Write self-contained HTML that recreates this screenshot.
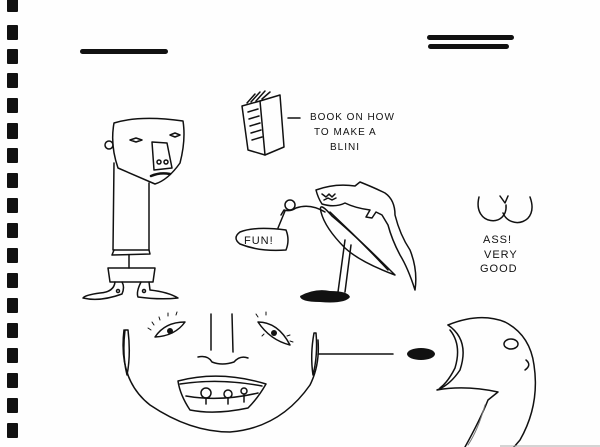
<!DOCTYPE html>
<html><head><meta charset="utf-8"><style>
html,body{margin:0;padding:0;background:#fff;width:600px;height:447px;overflow:hidden}
svg{display:block}
text{font-family:"Liberation Sans",sans-serif;fill:#111;letter-spacing:1px}
</style></head><body>
<svg width="600" height="447" viewBox="0 0 600 447" xmlns="http://www.w3.org/2000/svg">
<rect width="600" height="447" fill="#fefefe"/>
<g fill="#111">
<rect x="7" y="-2" width="11" height="14" rx="1"/>
<rect x="7" y="25" width="11" height="15" rx="1"/>
<rect x="7" y="49" width="11" height="15" rx="1"/>
<rect x="7" y="73" width="11" height="15" rx="1"/>
<rect x="7" y="98" width="11" height="15" rx="1"/>
<rect x="7" y="123" width="11" height="16" rx="1"/>
<rect x="7" y="148" width="11" height="15" rx="1"/>
<rect x="7" y="173" width="11" height="15" rx="1"/>
<rect x="7" y="198" width="11" height="15" rx="1"/>
<rect x="7" y="223" width="11" height="15" rx="1"/>
<rect x="7" y="248" width="11" height="15" rx="1"/>
<rect x="7" y="273" width="11" height="15" rx="1"/>
<rect x="7" y="298" width="11" height="15" rx="1"/>
<rect x="7" y="323" width="11" height="15" rx="1"/>
<rect x="7" y="348" width="11" height="15" rx="1"/>
<rect x="7" y="373" width="11" height="15" rx="1"/>
<rect x="7" y="398" width="11" height="15" rx="1"/>
<rect x="7" y="423" width="11" height="15" rx="1"/>
<rect x="80" y="49" width="88" height="5" rx="2.5"/>
<rect x="427" y="35" width="87" height="5" rx="2.5"/>
<rect x="428" y="44" width="81" height="5" rx="2.5"/>
<ellipse cx="421" cy="354" rx="14" ry="6"/>
<path d="M300 296 Q315 288 330 291 Q348 291 350 297 Q345 304 320 302 Q300 302 300 296Z"/>
<ellipse cx="170" cy="331" rx="3" ry="3"/>
<ellipse cx="274" cy="333" rx="3" ry="3"/>
</g>
<g fill="none" stroke="#111" stroke-width="1.5" stroke-linecap="round" stroke-linejoin="round">
<!-- head man -->
<path d="M114 123 Q140 115 183 121 Q186 140 180 163 Q168 180 155 184 L118 168 Q110 145 114 123Z"/>
<circle cx="109" cy="145" r="4"/>
<path d="M130 140 l6 -2 l6 2 l-6 2z M170 135 l5 -2 l5 2 l-5 2z"/>
<path d="M152 142 L167 143 L172 168 L154 170Z"/>
<circle cx="159" cy="162" r="2"/><circle cx="166" cy="162" r="2"/>
<path d="M151 176 Q160 172 170 174" stroke-width="2.5"/>
<path d="M114 163 L113 250 L149 250 L149 183"/>
<path d="M114 250 L112 255 L150 254 L149 250"/>
<path d="M129 255 L129 268"/>
<path d="M108 268 L155 268 L153 282 L110 282Z"/>
<path d="M115 282 Q114 292 100 293 Q85 295 83 298 Q100 302 122 294 Q125 287 122 282"/>
<path d="M141 282 Q136 292 138 297 Q160 300 178 298 Q168 292 150 290 L149 282"/>
<circle cx="118" cy="291" r="1.5"/><circle cx="144" cy="291" r="1.5"/>
<!-- book -->
<path d="M242 106 L260 101 L265 155 L248 150Z"/>
<path d="M260 101 L280 95 L284 147 L265 155"/>
<path d="M248 112 l10 -3 M249 119 l10 -3 M250 126 l10 -3 M251 133 l10 -3 M252 140 l10 -3"/>
<path d="M247 103 L255 94 M251 102 L260 92 M256 101 L265 91 M262 99 L270 92"/>
<path d="M288 118 L300 118"/>
<!-- bird -->
<path d="M284 210 L281 215 M284 210 Q290 212 296 208 Q310 203 325 212"/>
<circle cx="290" cy="205" r="5"/>
<path d="M285 211 L278 228"/>
<path d="M240 232 Q255 226 286 230 Q290 240 286 250 Q260 252 240 244 Q232 238 240 232Z"/>
<path d="M321 212 Q318 200 332 216 Q355 235 395 275 Q360 262 345 248 Q325 228 321 212Z"/>
<path d="M330 212 Q360 240 388 270"/>
<path d="M345 240 L338 292 M351 245 L345 292"/>
<!-- dog -->
<path d="M316 190 Q335 183 355 186 L360 182 Q375 188 385 193 Q395 200 395 215 Q400 235 410 250 Q418 270 415 290 Q408 268 400 255 Q392 240 388 225 L382 215 L376 212 L372 218 L366 217 L370 210 Q355 208 345 203 Q335 208 322 204 Q318 198 316 190Z"/>
<path d="M322 194 l4 3 l3 -3 l3 3 l3 -3 M324 200 l4 -2 l4 2 l4 -2"/>
<!-- ass -->
<path d="M479 197 C472 226 508 228 506 205"/>
<path d="M503 213 C510 230 540 224 530 197"/>
<path d="M500 196 L505 203 L508 196"/>
<!-- face -->
<path d="M124 330 Q118 380 150 405 Q190 432 230 432 Q280 428 310 385 Q320 365 318 340"/>
<path d="M125 330 Q122 355 127 375 Q131 355 128 330Z"/>
<path d="M314 333 Q310 355 313 375 Q318 355 316 333Z"/>
<path d="M318 354 L393 354"/>
<path d="M155 337 Q165 322 185 322 Q175 336 155 337Z"/>
<path d="M258 322 Q278 322 290 345 Q270 340 258 322Z"/>
<path d="M151 330 l-3 -2 M154 325 l-2 -3 M160 320 l-1 -3 M168 316 l0 -3 M176 315 l1 -3 M258 317 l-2 -3 M266 315 l0 -3 M287 336 l3 -1 M290 341 l3 1 M264 334 l-2 2" stroke-width="1"/>
<path d="M211 314 L211 350 M232 314 L233 352"/>
<path d="M198 357 Q208 355 212 362 Q222 366 234 362 Q240 355 248 358"/>
<path d="M178 381 Q220 370 266 384 Q258 398 248 408 Q215 415 190 410 Q180 395 178 381Z"/>
<path d="M180 384 Q220 378 262 386"/>
<path d="M186 396 Q220 402 258 393"/>
<circle cx="206" cy="393" r="5"/><circle cx="228" cy="394" r="4"/><circle cx="244" cy="391" r="3"/>
<path d="M206 398 L206 404 M228 398 L228 404 M244 394 L244 402"/>
<!-- creature -->
<path d="M448 325 Q480 312 505 322 Q530 335 534 365 Q540 405 520 440 L514 447"/>
<path d="M448 325 Q470 340 460 370 Q450 385 437 390 Q465 385 498 392 L488 400 Q480 420 465 447"/>
<path d="M450 330 Q462 345 455 368 Q448 382 440 388"/>
<ellipse cx="511" cy="344" rx="7" ry="5"/>
<path d="M526 360 Q532 365 525 370"/>
<path d="M485 405 Q478 430 468 445" stroke-width="1" stroke="#777"/>
</g>
<line x1="500" y1="446" x2="600" y2="446" stroke="#aaa" stroke-width="1"/>
<g font-size="10">
<text x="310" y="120">BOOK ON HOW</text>
<text x="314" y="135">TO MAKE A</text>
<text x="330" y="150">BLINI</text>
<text x="244" y="244" font-size="11">FUN!</text>
<text x="483" y="243" font-size="11">ASS!</text>
<text x="484" y="258" font-size="11">VERY</text>
<text x="480" y="272" font-size="11">GOOD</text>
</g>
</svg>
</body></html>
